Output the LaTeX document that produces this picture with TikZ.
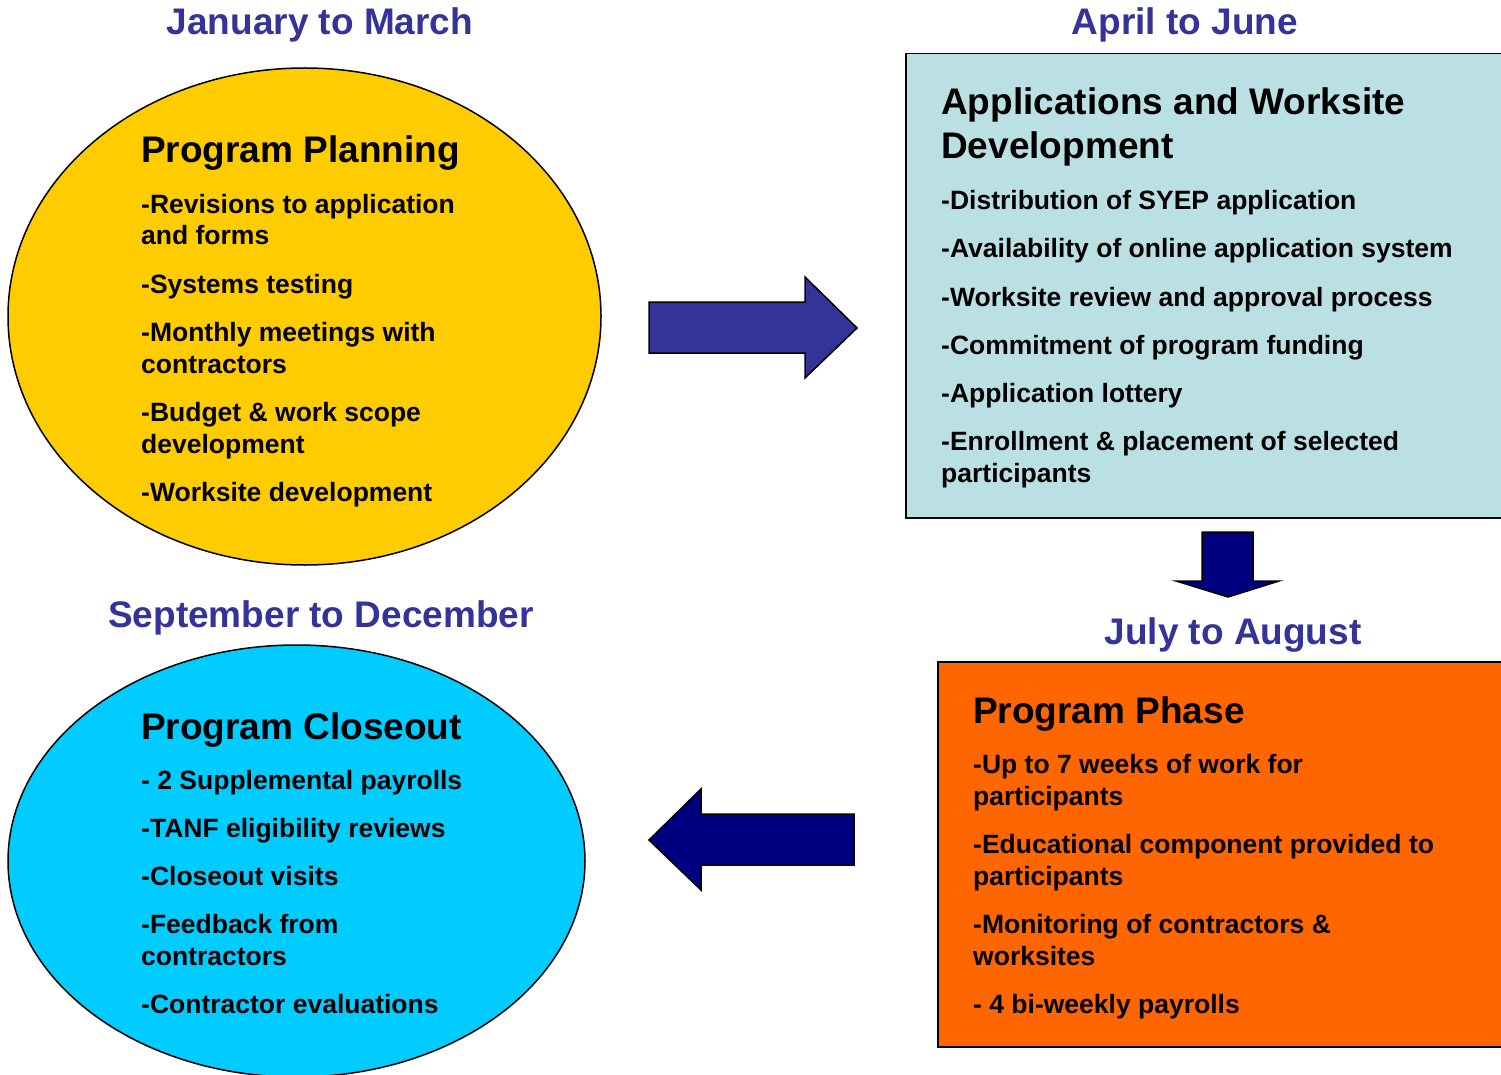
\documentclass[tikz,border=0pt]{standalone}
\usepackage{fontspec}
\setmainfont{Liberation Sans}
\usetikzlibrary{shapes.geometric}
\definecolor{titleblue}{HTML}{333399}
\definecolor{planyellow}{HTML}{FFCC00}
\definecolor{applblue}{HTML}{BBE0E3}
\definecolor{closecyan}{HTML}{00CCFF}
\definecolor{phaseorange}{HTML}{FF6600}
\definecolor{arrowblue}{HTML}{333399}
\definecolor{arrownavy}{HTML}{000080}
\begin{document}
\begin{tikzpicture}[x=1pt,y=-1pt,
  ttl/.style={font=\fontsize{37}{40}\selectfont\bfseries, text=titleblue, inner sep=0, anchor=base},
  hd/.style={font=\fontsize{37}{44}\selectfont\bfseries, anchor=base west, inner sep=0, align=left},
  itm/.style={font=\fontsize{26.5}{32}\selectfont\bfseries, anchor=base west, inner sep=0, align=left},
  shp/.style={draw=black, line width=1.5pt},
  blockarrow/.style={draw=black, line width=1.5pt, line join=miter}]
\useasboundingbox (0,0) rectangle (1501,1075);

% shapes
\node[shp, ellipse, fill=planyellow, inner sep=0, minimum width=593, minimum height=497] (plan) at (304.5,316.5) {};
\node[shp, ellipse, fill=closecyan, inner sep=0, minimum width=577, minimum height=432] (close) at (296.5,861) {};
\node[shp, rectangle, fill=applblue, inner sep=0, minimum width=610, minimum height=464, anchor=north west] (appl) at (905,53) {};
\node[shp, rectangle, fill=phaseorange, inner sep=0, minimum width=580, minimum height=385, anchor=north west] (phase) at (937,661) {};

% block arrows
\filldraw[blockarrow, fill=arrowblue] (649,302) -- (805,302) -- (805,277) -- (857,328) -- (805,378) -- (805,353) -- (649,353) -- cycle;
\filldraw[blockarrow, fill=arrownavy] (1202,532) -- (1253,532) -- (1253,581) -- (1279,581) -- (1228,597) -- (1176,581) -- (1202,581) -- cycle;
\filldraw[blockarrow, fill=arrownavy] (854,814) -- (701,814) -- (701,789) -- (649,840) -- (701,890) -- (701,865) -- (854,865) -- cycle;

% titles
\node[ttl] (t1) at (320,35) {January to March};
\node[ttl] (t2) at (1185,35) {April to June};
\node[ttl] (t3) at (321,627) {September to December};
\node[ttl] (t4) at (1233,644) {July to August};

% Program Planning
\node[hd] (planh) at (141,163) {Program Planning};
\node[itm] (p1) at (141,245) {-Revisions to application\\and forms};
\node[itm] (p2) at (141,293) {-Systems testing};
\node[itm] (p3) at (141,373) {-Monthly meetings with\\contractors};
\node[itm] (p4) at (141,453) {-Budget \& work scope\\development};
\node[itm] (p5) at (141,501) {-Worksite development};

% Applications
\node[hd] (applh) at (941,159) {Applications and Worksite\\Development};
\node[itm] (a1) at (941,210) {-Distribution of SYEP application};
\node[itm] (a2) at (941,258) {-Availability of online application system};
\node[itm] (a3) at (941,306) {-Worksite review and approval process};
\node[itm] (a4) at (941,354) {-Commitment of program funding};
\node[itm] (a5) at (941,402) {-Application lottery};
\node[itm] (a6) at (941,482) {-Enrollment \& placement of selected\\participants};

% Program Phase
\node[hd] (phaseh) at (973,723) {Program Phase};
\node[itm] (f1) at (973,805) {-Up to 7 weeks of work for\\participants};
\node[itm] (f2) at (973,885) {-Educational component provided to\\participants};
\node[itm] (f3) at (973,965) {-Monitoring of contractors \&\\worksites};
\node[itm] (f4) at (973,1013) {- 4 bi-weekly payrolls};

% Program Closeout
\node[hd] (closeh) at (141,739) {Program Closeout};
\node[itm] (c1) at (141,789) {- 2 Supplemental payrolls};
\node[itm] (c2) at (141,837) {-TANF eligibility reviews};
\node[itm] (c3) at (141,885) {-Closeout visits};
\node[itm] (c4) at (141,965) {-Feedback from\\contractors};
\node[itm] (c5) at (141,1013) {-Contractor evaluations};
\end{tikzpicture}
\end{document}
